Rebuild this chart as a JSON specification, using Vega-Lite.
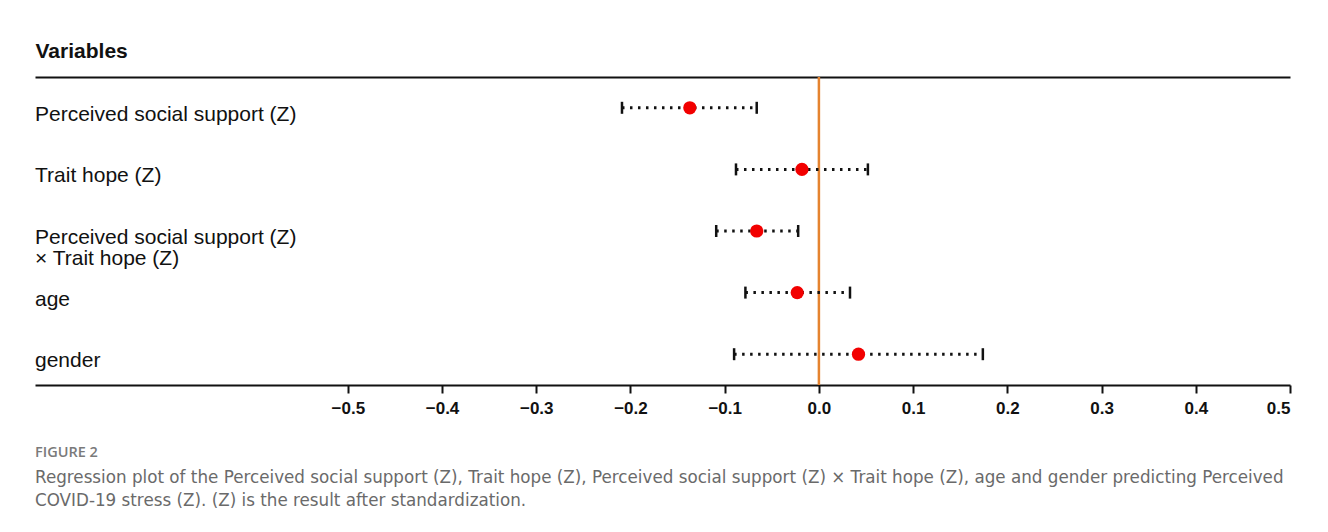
{
  "$schema": "https://vega.github.io/schema/vega-lite/v6.json",
  "width": 1255,
  "height": 308,
  "autosize": {"type": "none"},
  "padding": {"left": 35, "top": 77, "right": 38, "bottom": 147},
  "background": "white",
  "config": {"view": {"stroke": null}},
  "title": {
    "text": "FIGURE 2",
    "subtitle": ["Regression plot of the Perceived social support (Z), Trait hope (Z), Perceived social support (Z) × Trait hope (Z), age and gender predicting Perceived", "COVID-19 stress (Z). (Z) is the result after standardization."],
    "orient": "bottom",
    "anchor": "start",
    "frame": "group",
    "offset": 30,
    "font": "Open Sans",
    "fontSize": 14.5,
    "fontWeight": 600,
    "color": "#7a7a7a",
    "subtitleFont": "DejaVu Sans",
    "subtitleFontSize": 16.75,
    "subtitleFontWeight": "normal",
    "subtitleColor": "#6a6a6a",
    "subtitleLineHeight": 23,
    "subtitlePadding": 9
  },
  "data": {
    "values": [
      {"variable": "Perceived social support (Z)", "label": ["Perceived social support (Z)"], "estimate": -0.137, "lower": -0.209, "upper": -0.066},
      {"variable": "Trait hope (Z)", "label": ["Trait hope (Z)"], "estimate": -0.018, "lower": -0.088, "upper": 0.052},
      {"variable": "Perceived social support (Z) × Trait hope (Z)", "label": ["Perceived social support (Z)", "× Trait hope (Z)"], "estimate": -0.066, "lower": -0.109, "upper": -0.022},
      {"variable": "age", "label": ["age"], "estimate": -0.023, "lower": -0.078, "upper": 0.033},
      {"variable": "gender", "label": ["gender"], "estimate": 0.042, "lower": -0.090, "upper": 0.174}
    ]
  },
  "layer": [
    {
      "data": {"values": [{"reference": 0}]},
      "mark": {"type": "rule", "color": "#e5832f", "strokeWidth": 2.5},
      "encoding": {
        "x": {"field": "reference", "type": "quantitative", "scale": {"domain": [-0.832, 0.5], "nice": false, "zero": false},
          "axis": {
            "orient": "bottom",
            "values": [-0.5, -0.4, -0.3, -0.2, -0.1, 0, 0.1, 0.2, 0.3, 0.4, 0.5],
            "format": ".1f",
            "title": null,
            "grid": false,
            "domainColor": "#111111",
            "domainWidth": 2,
            "tickColor": "#111111",
            "tickWidth": 2,
            "tickSize": 8,
            "labelFont": "Liberation Sans",
            "labelFontSize": 17,
            "labelFontWeight": "bold",
            "labelColor": "#111111",
            "labelPadding": 7
          }
        }
      }
    },
    {
      "mark": {"type": "rule", "color": "#111111", "strokeWidth": 3, "strokeDash": [2.5, 5.5]},
      "encoding": {
        "y": {"field": "variable", "type": "nominal", "sort": null, "scale": {"type": "band", "paddingInner": 0, "paddingOuter": 0}, "axis": null},
        "x": {"field": "lower", "type": "quantitative",
          "axis": {
            "orient": "top",
            "labels": false,
            "ticks": false,
            "grid": false,
            "domainColor": "#111111",
            "domainWidth": 2,
            "title": "Variables",
            "titleFont": "Liberation Sans",
            "titleFontSize": 21,
            "titleFontWeight": "bold",
            "titleColor": "#111111",
            "titleAnchor": "start",
            "titleAlign": "left",
            "titleBaseline": "alphabetic",
            "titlePadding": 20
          }
        },
        "x2": {"field": "upper"}
      }
    },
    {
      "mark": {"type": "tick", "color": "#111111", "opacity": 1, "thickness": 2.5, "size": 12, "orient": "vertical"},
      "encoding": {
        "y": {"field": "variable", "type": "nominal", "sort": null, "axis": null},
        "x": {"field": "lower", "type": "quantitative", "axis": null}
      }
    },
    {
      "mark": {"type": "tick", "color": "#111111", "opacity": 1, "thickness": 2.5, "size": 12, "orient": "vertical"},
      "encoding": {
        "y": {"field": "variable", "type": "nominal", "sort": null, "axis": null},
        "x": {"field": "upper", "type": "quantitative", "axis": null}
      }
    },
    {
      "mark": {"type": "point", "shape": "circle", "filled": true, "color": "#f20000", "opacity": 1, "size": 175},
      "encoding": {
        "y": {"field": "variable", "type": "nominal", "sort": null, "axis": null},
        "x": {"field": "estimate", "type": "quantitative", "axis": null}
      }
    },
    {
      "mark": {"type": "text", "align": "left", "baseline": "middle", "dy": 7, "font": "Liberation Sans", "fontSize": 21, "lineHeight": 21, "color": "#111111"},
      "encoding": {
        "y": {"field": "variable", "type": "nominal", "sort": null, "axis": null},
        "x": {"datum": -0.832, "type": "quantitative", "axis": null},
        "text": {"field": "label"}
      }
    }
  ],
  "resolve": {"axis": {"x": "independent"}}
}
